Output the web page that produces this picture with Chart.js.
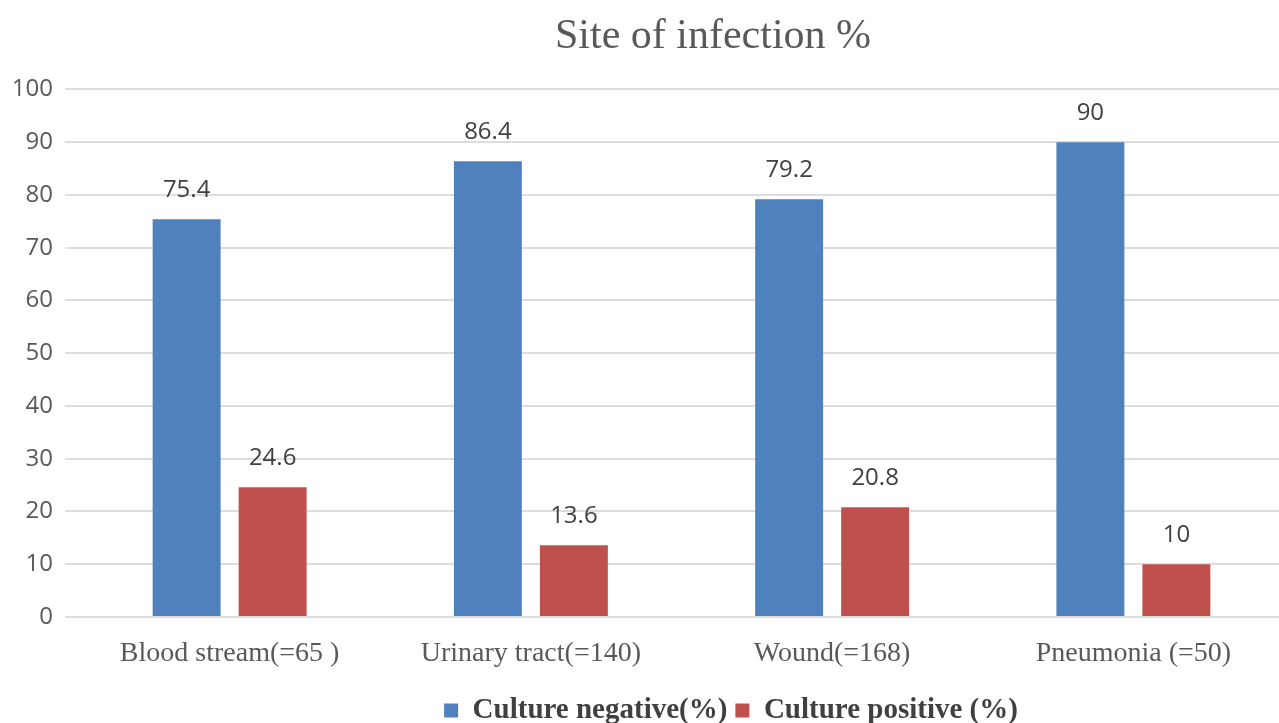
<!DOCTYPE html>
<html>
<head>
<meta charset="utf-8">
<script src="https://cdn.jsdelivr.net/npm/chart.js@4/dist/chart.umd.min.js"></script>
<style>
  html, body { margin: 0; padding: 0; background: #fff; overflow: hidden; }
  #wrap { width: 1279px; height: 723px; overflow: hidden; }
  #box { width: 1440px; height: 723px; }
</style>
</head>
<body>
<div id="wrap"><div id="box"><canvas id="myChart"></canvas></div></div>
<script>
let sites = ["Blood stream(=65 )", "Urinary tract(=140)", "Wound(=168)", "Pneumonia (=50)"]
let negative = [75.4, 86.4, 79.2, 90]
let positive = [24.6, 13.6, 20.8, 10]
let yTicks = [0, 10, 20, 30, 40, 50, 60, 70, 80, 90, 100]

let ctx = document.getElementById("myChart")

// value labels above each bar
let barLabels = {
    id: "barLabels",
    afterDatasetsDraw(chart) {
        let c = chart.ctx
        c.save()
        c.font = "24px 'Open Sans'"
        c.fillStyle = "#404040"
        c.textAlign = "center"
        c.textBaseline = "middle"
        chart.data.datasets.forEach((ds, i) => {
            chart.getDatasetMeta(i).data.forEach((bar, j) => {
                c.fillText(ds.data[j], bar.x, bar.y - 29)
            })
        })
        c.restore()
    }
}

// the original picture is cropped on the right, so title and legend sit right of centre
let shiftBoxes = {
    id: "shiftBoxes",
    afterLayout(chart) {
        let move = (box, centre, dy) => {
            let dx = centre - (box.left + box.right) / 2
            box.left += dx
            box.right += dx
            box.top += dy
            box.bottom += dy
        }
        move(chart.titleBlock, 713, 0)
        move(chart.legend, 731, 12)
    }
}

let barObject = new Chart(ctx, {
    type: "bar",
    data: {
        labels: sites,
        datasets: [{
            label: "Culture negative(%)",
            data: negative,
            backgroundColor: "#4F81BD",
            borderWidth: 0,
            categoryPercentage: 0.571,
            barPercentage: 0.79
        }, {
            label: "Culture positive (%)",
            data: positive,
            backgroundColor: "#C0504D",
            borderWidth: 0,
            categoryPercentage: 0.571,
            barPercentage: 0.79
        }]
    },
    options: {
        responsive: true,
        maintainAspectRatio: false,
        animation: false,
        layout: { padding: { left: 0, right: 156, top: 0, bottom: 0 } },
        plugins: {
            title: {
                display: true,
                text: "Site of infection %",
                color: "#595959",
                font: { family: "'Liberation Serif'", size: 42, weight: "normal" },
                padding: { top: 12, bottom: 27 }
            },
            legend: {
                position: "bottom",
                labels: {
                    color: "#404040",
                    font: { family: "'Liberation Serif'", size: 29, weight: "bold" },
                    boxWidth: 14,
                    boxHeight: 14,
                    padding: 8
                }
            },
            tooltip: { enabled: false }
        },
        scales: {
            x: {
                grid: { display: false },
                border: { display: false },
                ticks: {
                    color: "#595959",
                    font: { family: "'Liberation Serif'", size: 28 },
                    padding: 12,
                    maxRotation: 0
                },
                afterFit: s => { s.height = 723 - 89 - 528 - s.chart.legend.height }
            },
            y: {
                min: 0,
                max: 100,
                afterBuildTicks: s => { s.ticks = yTicks.map(v => ({ value: v })) },
                grid: { color: "#DDDDDD", lineWidth: 2, tickLength: 14 },
                border: { display: false },
                ticks: {
                    color: "#595959",
                    font: { family: "'Open Sans'", size: 24 },
                    padding: 12
                },
                afterFit: s => { s.width = 79 }
            }
        }
    },
    plugins: [barLabels, shiftBoxes]
})
</script>
</body>
</html>
